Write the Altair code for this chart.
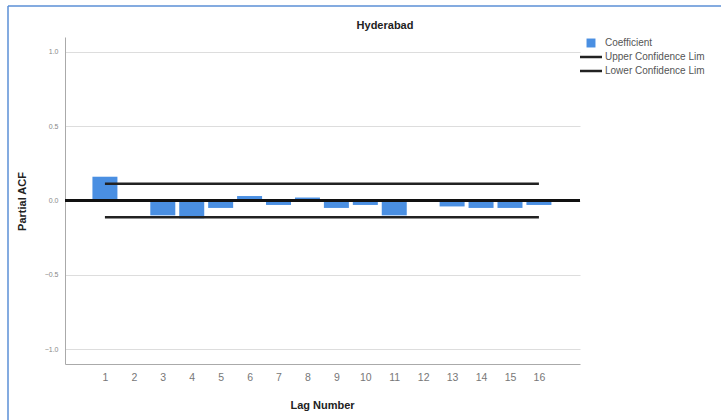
import altair as alt
import pandas as pd

lags = list(range(1, 17))
pacf = [0.16, -0.01, -0.10, -0.12, -0.05, 0.03, -0.03, 0.02, -0.05, -0.03, -0.10, 0.0, -0.04, -0.05, -0.05, -0.03]
upper_limit = 0.113
lower_limit = -0.113
legend_labels = ["Coefficient", "Upper Confidence Lim", "Lower Confidence Lim"]
chart_title = "Hyderabad"

W, H = 515, 327
BLUE = "#4a8fe2"
FONT = "Liberation Sans"

df = pd.DataFrame({"lag": lags, "pacf": pacf})
lim = pd.DataFrame({"lag": [lags[0], lags[0]], "lag2": [lags[-1], lags[-1]], "v": [upper_limit, lower_limit]})

xs = alt.Scale(domain=[-0.38, 17.42], nice=False, zero=False, padding=0)
ys = alt.Scale(domain=[-1.1, 1.1], nice=False, padding=0)

xaxis = alt.Axis(values=lags, title="Lag Number", grid=False, ticks=False, domainColor="#aaaaaa",
                 labelColor="#777777", labelFontSize=10.5, labelPadding=8, labelFont=FONT,
                 labelOverlap=False, labelFlush=False,
                 titleFont=FONT, titleFontSize=11, titleFontWeight="bold", titleColor="#222222",
                 titleX=257, titleY=41, titleBaseline="middle")
yaxis = alt.Axis(values=[-1, -0.5, 0, 0.5, 1], format=".1f", title="Partial ACF", grid=True,
                 gridColor="#dddddd", ticks=False, domainColor="#aaaaaa", labelColor="#888888",
                 labelFontSize=7, labelPadding=7, labelFont=FONT, titleFont=FONT, titleFontSize=11,
                 titleFontWeight="bold", titleColor="#222222", titleX=-43, titleY=164,
                 titleAngle=-90, titleBaseline="middle", labelOverlap=False)

bars = alt.Chart(df).mark_bar(color=BLUE, size=25).encode(
    x=alt.X("lag:Q", scale=xs, axis=xaxis),
    y=alt.Y("pacf:Q", scale=ys, axis=yaxis),
    y2=alt.datum(0),
)

zero = alt.Chart(df).mark_rule(color="#111111", strokeWidth=2.5).encode(
    y=alt.datum(0, scale=ys, axis=yaxis), x=alt.value(0), x2=alt.value(W)
)

limits = alt.Chart(lim).mark_rule(color="#222222", strokeWidth=2.5).encode(
    x=alt.X("lag:Q", scale=xs, axis=xaxis), x2="lag2:Q", y=alt.Y("v:Q", scale=ys, axis=yaxis)
)

title = alt.Chart(pd.DataFrame({"t": [chart_title]})).mark_text(
    font=FONT, fontSize=11, fontWeight="bold", color="#222222", baseline="middle", align="center"
).encode(text="t:N", x=alt.value(320), y=alt.value(-11))

# legend
leg_rows = [43 - 37, 57 - 37, 71 - 37]
leg_layers = [
    alt.Chart(pd.DataFrame({"a": [0]})).mark_square(color=BLUE, size=80, opacity=1, filled=True).encode(
        x=alt.value(591 - 65), y=alt.value(leg_rows[0])
    )
]
for r in leg_rows[1:]:
    leg_layers.append(
        alt.Chart(pd.DataFrame({"a": [0]})).mark_rule(color="#222222", strokeWidth=2.5).encode(
            x=alt.value(580 - 65), x2=alt.value(602 - 65), y=alt.value(r)
        )
    )
for lab, r in zip(legend_labels, leg_rows):
    leg_layers.append(
        alt.Chart(pd.DataFrame({"lab": [lab]})).mark_text(
            font=FONT, fontSize=10, color="#555555", align="left", baseline="middle"
        ).encode(text="lab:N", x=alt.value(605 - 65), y=alt.value(r))
    )

# outer frame
frame_left = alt.Chart(pd.DataFrame({"a": [0]})).mark_rule(color="#5b8fd6", strokeWidth=1.5).encode(
    x=alt.value(8 - 65), y=alt.value(6 - 37), y2=alt.value(420 - 37)
)
frame_top = alt.Chart(pd.DataFrame({"a": [0]})).mark_rule(color="#5b8fd6", strokeWidth=1.5).encode(
    x=alt.value(8 - 65), x2=alt.value(721 - 65), y=alt.value(6 - 37)
)

chart = alt.layer(bars, zero, limits, title, *leg_layers, frame_left, frame_top).properties(
    width=W, height=H,
    autosize=alt.AutoSizeParams(type="none"),
    padding={"left": 65, "top": 37, "right": 141, "bottom": 56},
    background="white",
).configure_view(stroke=None).configure_axis(labelOverlap=False)

chart.save("out.html", embed_options={"renderer": "svg", "actions": False})
